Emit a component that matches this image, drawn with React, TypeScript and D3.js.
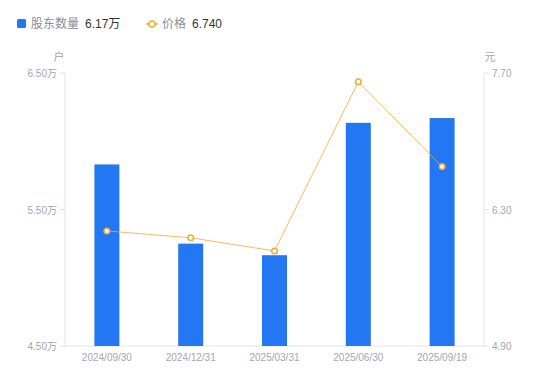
import React from "react";
import * as d3 from "d3";

const categories = ["2024/09/30", "2024/12/31", "2025/03/31", "2025/06/30", "2025/09/19"];
const holders = [5.83, 5.25, 5.165, 6.135, 6.17]; // 万户
const prices = [6.08, 6.01, 5.875, 7.61, 6.74];
const leftTicks = [4.5, 5.5, 6.5];
const rightTicks = [4.9, 6.3, 7.7];

const W = 550, H = 381;
const M = { left: 65, right: 484, top: 73, bottom: 346 };

export default function App() {
  const xc = d3.scalePoint<string>().domain(categories).range([M.left, M.right]).padding(0.5);
  const yL = d3.scaleLinear().domain([4.5, 6.5]).range([M.bottom, M.top]);
  const yR = d3.scaleLinear().domain([4.9, 7.7]).range([M.bottom, M.top]);
  const line = d3.line<number>().x((_, i) => xc(categories[i])!).y((d) => yR(d));
  const gray = "#a3a6b4";
  const axisCol = "#e3e3e3";
  const blue = "#2477f2";
  const orange = "#f5a833";
  const font = "'Liberation Sans', Arial, 'Noto Sans CJK SC', sans-serif";
  const bw = 25;
  return (
    <svg width={W} height={H} style={{ position: "absolute", left: 0, top: 0 }} fontFamily={font}>
      <rect width={W} height={H} fill="#fff" />
      {/* legend */}
      <rect x={17} y={19} width={9} height={9} rx={1.5} fill={blue} />
      <text x={31} y={28} fontSize={12} fill="#8a8d99">股东数量</text>
      <text x={85} y={28} fontSize={12} fill="#333">6.17万</text>
      <line x1={146} x2={158} y1={24} y2={24} stroke={orange} strokeWidth={1.5} />
      <circle cx={152} cy={24} r={3} fill="#fff" stroke={orange} strokeWidth={1.5} />
      <text x={162} y={28} fontSize={12} fill="#8a8d99">价格</text>
      <text x={192} y={28} fontSize={12} fill="#333">6.740</text>
      {/* axis titles */}
      <text x={59} y={61} fontSize={11} fill={gray} textAnchor="middle">户</text>
      <text x={490} y={61} fontSize={11} fill={gray} textAnchor="middle">元</text>
      {/* axes */}
      <line x1={M.left} x2={M.left} y1={M.top} y2={M.bottom} stroke={axisCol} />
      <line x1={M.right} x2={M.right} y1={M.top} y2={M.bottom} stroke={axisCol} />
      <line x1={M.left} x2={M.right} y1={M.bottom} y2={M.bottom} stroke={axisCol} />
      {leftTicks.map((t) => (
        <g key={"l" + t}>
          <line x1={M.left - 5} x2={M.left} y1={yL(t)} y2={yL(t)} stroke={axisCol} />
          <text x={M.left - 8} y={yL(t) + 4} fontSize={10} fill={gray} textAnchor="end">{t.toFixed(2)}万</text>
        </g>
      ))}
      {rightTicks.map((t) => (
        <g key={"r" + t}>
          <line x1={M.right} x2={M.right + 5} y1={yR(t)} y2={yR(t)} stroke={axisCol} />
          <text x={M.right + 8} y={yR(t) + 4} fontSize={10} fill={gray}>{t.toFixed(2)}</text>
        </g>
      ))}
      {categories.map((c) => (
        <text key={c} x={xc(c)!} y={361} fontSize={10} fill={gray} textAnchor="middle">{c}</text>
      ))}
      {/* bars */}
      {holders.map((v, i) => (
        <rect key={i} x={xc(categories[i])! - bw / 2} y={yL(v)} width={bw} height={M.bottom - yL(v)} fill={blue} />
      ))}
      {/* line */}
      <path d={line(prices) || ""} fill="none" stroke={orange} strokeWidth={0.8} />
      {prices.map((v, i) => (
        <circle key={i} cx={xc(categories[i])!} cy={yR(v)} r={2.8} fill="#fff" stroke={orange} strokeWidth={1.5} />
      ))}
    </svg>
  );
}
